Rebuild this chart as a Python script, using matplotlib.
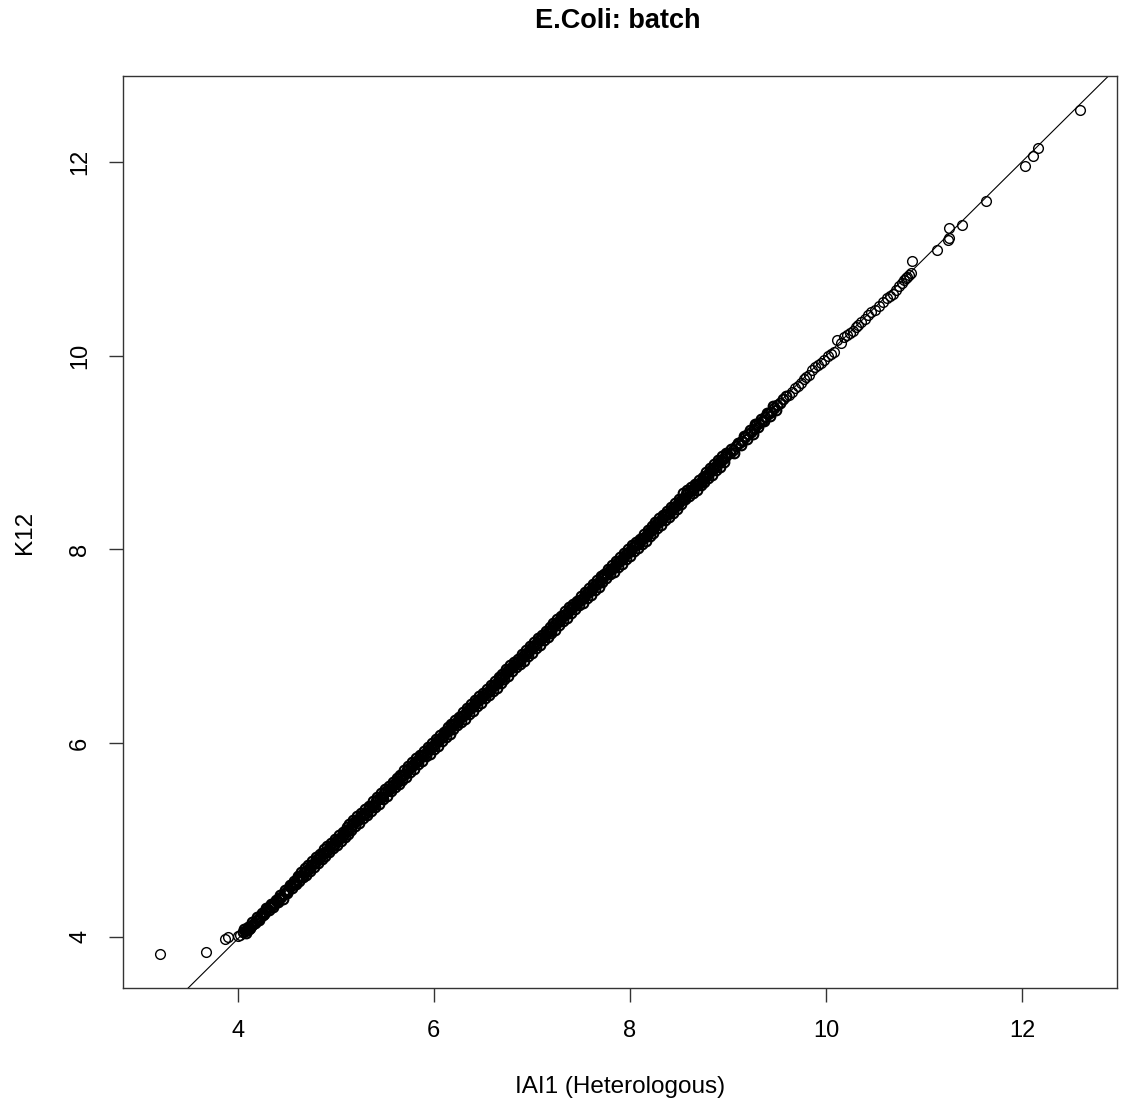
import matplotlib
matplotlib.use("Agg")
import matplotlib.pyplot as plt
import numpy as np

plt.rcParams['font.family'] = ['Liberation Sans', 'DejaVu Sans']

# ---- data: QQ quantiles (x = IAI1 (Heterologous), y = K12) ----
tail_low_x = [3.206, 3.681, 3.871, 3.901, 4.003, 4.02]
tail_low_y = [3.817, 3.845, 3.976, 3.997, 4.003, 4.02]

seg_a_x = [4.05, 4.07, 4.09, 4.12, 4.14, 4.16, 4.19, 4.21, 4.23, 4.26, 4.28, 4.30,
           4.33, 4.35, 4.37, 4.40, 4.42, 4.44, 4.47, 4.49, 4.51, 4.54, 4.56, 4.58]
seg_a_y = [4.05, 4.06, 4.07, 4.08, 4.11, 4.13, 4.16, 4.18, 4.20, 4.22, 4.25, 4.28,
           4.31, 4.33, 4.34, 4.37, 4.40, 4.41, 4.44, 4.46, 4.48, 4.52, 4.54, 4.55]

seg_a2_x = [4.06, 4.08, 4.11, 4.13, 4.15, 4.18, 4.20, 4.22, 4.25, 4.27, 4.29, 4.32,
            4.34, 4.36, 4.39, 4.41, 4.43, 4.46, 4.48, 4.50, 4.53, 4.55, 4.57, 4.59]
seg_a2_y = [4.08, 4.04, 4.10, 4.09, 4.15, 4.14, 4.20, 4.17, 4.24, 4.23, 4.29, 4.27,
            4.34, 4.31, 4.38, 4.36, 4.43, 4.39, 4.48, 4.45, 4.53, 4.50, 4.57, 4.54]

seg_b_x = [
    4.60, 4.62, 4.64, 4.66, 4.68, 4.71, 4.73, 4.75, 4.77, 4.79,
    4.81, 4.83, 4.85, 4.87, 4.90, 4.92, 4.94, 4.96, 4.98, 5.00,
    5.02, 5.04, 5.06, 5.08, 5.10, 5.12, 5.15, 5.17, 5.19, 5.21,
    5.23, 5.25, 5.27, 5.29, 5.31, 5.33, 5.35, 5.37, 5.39, 5.41,
    5.43, 5.45, 5.47, 5.49, 5.51, 5.53, 5.55, 5.57, 5.59, 5.61,
    5.63, 5.65, 5.67, 5.69, 5.71, 5.73, 5.75, 5.77, 5.79, 5.81,
    5.83, 5.85, 5.87, 5.89, 5.91, 5.93, 5.95, 5.97, 5.99, 6.01,
    6.03, 6.05, 6.07, 6.09, 6.11, 6.13, 6.15, 6.17, 6.19, 6.21,
    6.23, 6.25, 6.27, 6.29, 6.31, 6.33, 6.35, 6.37, 6.39, 6.41,
    6.43, 6.45, 6.47, 6.49, 6.51, 6.53, 6.55, 6.57, 6.59, 6.61,
    6.63, 6.65, 6.67, 6.69, 6.71, 6.73, 6.75, 6.77, 6.79, 6.81,
    6.83, 6.85, 6.87, 6.89, 6.91, 6.93, 6.95, 6.97, 6.99, 7.01,
    7.03, 7.05, 7.07, 7.09, 7.11, 7.13, 7.15, 7.17, 7.19, 7.21,
    7.23, 7.25, 7.27, 7.29, 7.31, 7.33, 7.35, 7.37, 7.39, 7.41,
    7.43, 7.45, 7.47, 7.49, 7.51, 7.53, 7.55, 7.57, 7.59, 7.61,
    7.63, 7.65, 7.67, 7.69, 7.71, 7.73, 7.75, 7.77, 7.79, 7.81,
    7.83, 7.85, 7.87, 7.89, 7.91, 7.93, 7.95, 7.97, 7.99, 8.01,
    8.03, 8.05, 8.07, 8.09, 8.11, 8.13, 8.15, 8.17, 8.19, 8.21,
    8.23, 8.25, 8.27, 8.29, 8.31, 8.33, 8.35, 8.37, 8.39, 8.41,
    8.43, 8.45, 8.47, 8.49, 8.51, 8.53, 8.55, 8.57, 8.59, 8.61,
    8.63, 8.65, 8.67, 8.69, 8.71, 8.73, 8.75, 8.77, 8.79, 8.81,
    8.83, 8.85, 8.87, 8.89, 8.91, 8.93, 8.95, 8.97, 8.99]
seg_b_y = [
    4.58, 4.61, 4.62, 4.63, 4.67, 4.69, 4.70, 4.74, 4.75, 4.76,
    4.80, 4.80, 4.83, 4.86, 4.87, 4.89, 4.93, 4.94, 4.95, 4.99,
    5.01, 5.02, 5.03, 5.06, 5.09, 5.10, 5.12, 5.15, 5.18, 5.19,
    5.20, 5.23, 5.26, 5.27, 5.28, 5.31, 5.34, 5.35, 5.36, 5.40,
    5.42, 5.43, 5.44, 5.48, 5.50, 5.51, 5.52, 5.56, 5.58, 5.59,
    5.61, 5.64, 5.66, 5.67, 5.68, 5.72, 5.74, 5.75, 5.77, 5.80,
    5.81, 5.83, 5.86, 5.88, 5.89, 5.91, 5.94, 5.96, 5.97, 5.99,
    6.02, 6.04, 6.05, 6.07, 6.10, 6.12, 6.13, 6.15, 6.18, 6.20,
    6.21, 6.23, 6.26, 6.28, 6.29, 6.31, 6.34, 6.36, 6.37, 6.39,
    6.42, 6.44, 6.45, 6.47, 6.50, 6.52, 6.53, 6.55, 6.58, 6.60,
    6.61, 6.63, 6.66, 6.68, 6.69, 6.71, 6.74, 6.76, 6.77, 6.79,
    6.82, 6.84, 6.85, 6.87, 6.90, 6.92, 6.93, 6.95, 6.98, 7.00,
    7.01, 7.03, 7.06, 7.08, 7.09, 7.11, 7.14, 7.16, 7.17, 7.19,
    7.22, 7.24, 7.25, 7.27, 7.30, 7.32, 7.33, 7.35, 7.38, 7.40,
    7.41, 7.43, 7.46, 7.48, 7.49, 7.51, 7.54, 7.56, 7.57, 7.59,
    7.62, 7.64, 7.65, 7.67, 7.70, 7.72, 7.73, 7.75, 7.78, 7.80,
    7.81, 7.83, 7.86, 7.88, 7.89, 7.91, 7.94, 7.96, 7.97, 7.99,
    8.02, 8.04, 8.05, 8.07, 8.10, 8.12, 8.13, 8.15, 8.18, 8.20,
    8.21, 8.23, 8.26, 8.28, 8.29, 8.31, 8.34, 8.36, 8.37, 8.39,
    8.42, 8.44, 8.45, 8.47, 8.50, 8.52, 8.53, 8.57, 8.59, 8.60,
    8.61, 8.63, 8.66, 8.68, 8.69, 8.71, 8.74, 8.76, 8.77, 8.79,
    8.82, 8.84, 8.85, 8.87, 8.90, 8.92, 8.93, 8.95, 8.98]

seg_b2_x = [
    4.61, 4.63, 4.65, 4.67, 4.69, 4.70, 4.72, 4.74, 4.76, 4.78,
    4.80, 4.82, 4.84, 4.86, 4.88, 4.89, 4.91, 4.93, 4.95, 4.97,
    4.99, 5.01, 5.03, 5.05, 5.07, 5.09, 5.11, 5.13, 5.14, 5.16,
    5.18, 5.20, 5.22, 5.24, 5.26, 5.28, 5.30, 5.32, 5.34, 5.36,
    5.38, 5.40, 5.42, 5.44, 5.46, 5.48, 5.50, 5.52, 5.54, 5.56,
    5.58, 5.60, 5.62, 5.64, 5.66, 5.68, 5.70, 5.72, 5.74, 5.76,
    5.78, 5.80, 5.82, 5.84, 5.86, 5.88, 5.90, 5.92, 5.94, 5.96,
    5.98, 6.00, 6.02, 6.04, 6.06, 6.08, 6.10, 6.12, 6.14, 6.16,
    6.18, 6.20, 6.22, 6.24, 6.26, 6.28, 6.30, 6.32, 6.34, 6.36,
    6.38, 6.40, 6.42, 6.44, 6.46, 6.48, 6.50, 6.52, 6.54, 6.56,
    6.58, 6.60, 6.62, 6.64, 6.66, 6.68, 6.70, 6.72, 6.74, 6.76,
    6.78, 6.80, 6.82, 6.84, 6.86, 6.88, 6.90, 6.92, 6.94, 6.96,
    6.98, 7.00, 7.02, 7.04, 7.06, 7.08, 7.10, 7.12, 7.14, 7.16,
    7.18, 7.20, 7.22, 7.24, 7.26, 7.28, 7.30, 7.32, 7.34, 7.36,
    7.38, 7.40, 7.42, 7.44, 7.46, 7.48, 7.50, 7.52, 7.54, 7.56,
    7.58, 7.60, 7.62, 7.64, 7.66, 7.68, 7.70, 7.72, 7.74, 7.76,
    7.78, 7.80, 7.82, 7.84, 7.86, 7.88, 7.90, 7.92, 7.94, 7.96,
    7.98, 8.00, 8.02, 8.04, 8.06, 8.08, 8.10, 8.12, 8.14, 8.16,
    8.18, 8.20, 8.22, 8.24, 8.26, 8.28, 8.30, 8.32, 8.34, 8.36,
    8.38, 8.40, 8.42, 8.44, 8.46, 8.48, 8.50, 8.52, 8.54, 8.56,
    8.58, 8.60, 8.62, 8.64, 8.66, 8.68, 8.70, 8.72, 8.74, 8.76,
    8.78, 8.80, 8.82, 8.84, 8.86, 8.88, 8.90, 8.92, 8.94, 8.96, 8.98]
seg_b2_y = [
    4.63, 4.57, 4.67, 4.61, 4.71, 4.64, 4.74, 4.68, 4.78, 4.72,
    4.82, 4.76, 4.85, 4.80, 4.90, 4.83, 4.93, 4.87, 4.97, 4.91,
    5.01, 4.95, 5.05, 4.99, 5.08, 5.03, 5.13, 5.06, 5.16, 5.10,
    5.20, 5.14, 5.24, 5.17, 5.28, 5.22, 5.32, 5.26, 5.35, 5.30,
    5.40, 5.34, 5.44, 5.37, 5.48, 5.42, 5.52, 5.45, 5.56, 5.50,
    5.60, 5.54, 5.64, 5.58, 5.67, 5.62, 5.72, 5.65, 5.76, 5.70,
    5.80, 5.73, 5.84, 5.78, 5.88, 5.81, 5.92, 5.86, 5.96, 5.89,
    6.00, 5.94, 6.04, 5.97, 6.08, 6.02, 6.11, 6.06, 6.16, 6.09,
    6.20, 6.14, 6.24, 6.18, 6.27, 6.22, 6.32, 6.25, 6.36, 6.30,
    6.40, 6.33, 6.44, 6.38, 6.48, 6.41, 6.52, 6.46, 6.56, 6.49,
    6.60, 6.54, 6.64, 6.57, 6.68, 6.62, 6.71, 6.66, 6.76, 6.69,
    6.80, 6.74, 6.84, 6.78, 6.87, 6.82, 6.92, 6.85, 6.96, 6.90,
    7.00, 6.93, 7.04, 6.98, 7.08, 7.01, 7.12, 7.06, 7.16, 7.09,
    7.20, 7.14, 7.24, 7.17, 7.28, 7.22, 7.31, 7.26, 7.36, 7.29,
    7.40, 7.34, 7.44, 7.38, 7.47, 7.42, 7.52, 7.45, 7.56, 7.50,
    7.60, 7.53, 7.64, 7.58, 7.68, 7.61, 7.72, 7.66, 7.75, 7.70,
    7.80, 7.74, 7.84, 7.77, 7.88, 7.82, 7.92, 7.85, 7.96, 7.90,
    8.00, 7.93, 8.04, 7.98, 8.08, 8.01, 8.11, 8.06, 8.16, 8.09,
    8.20, 8.14, 8.24, 8.17, 8.28, 8.22, 8.32, 8.25, 8.35, 8.30,
    8.40, 8.33, 8.44, 8.38, 8.48, 8.42, 8.52, 8.47, 8.58, 8.52,
    8.61, 8.55, 8.64, 8.58, 8.68, 8.61, 8.72, 8.66, 8.75, 8.70,
    8.80, 8.74, 8.84, 8.77, 8.88, 8.82, 8.92, 8.85, 8.96, 8.90, 9.00]

seg_c_x = [9.02, 9.05, 9.08, 9.11, 9.14, 9.17, 9.20, 9.23, 9.26, 9.29,
           9.32, 9.35, 9.38, 9.41, 9.44, 9.47, 9.50, 9.53, 9.56, 9.59]
seg_c_y = [9.00, 9.03, 9.07, 9.10, 9.12, 9.16, 9.19, 9.21, 9.24, 9.28,
           9.30, 9.33, 9.37, 9.40, 9.42, 9.46, 9.49, 9.51, 9.55, 9.58]

seg_c2_x = [9.03, 9.06, 9.10, 9.13, 9.16, 9.19, 9.22, 9.25, 9.28, 9.31,
            9.34, 9.37, 9.40, 9.43, 9.46, 9.49]
seg_c2_y = [9.04, 8.99, 9.10, 9.08, 9.17, 9.14, 9.23, 9.19, 9.29, 9.26,
            9.35, 9.33, 9.41, 9.38, 9.48, 9.44]

seg_d_x = [9.62, 9.65, 9.68, 9.71, 9.74, 9.77, 9.80, 9.83, 9.86, 9.89,
           9.92, 9.95, 9.98, 10.02, 10.05, 10.08, 10.11, 10.15, 10.18, 10.21,
           10.24, 10.27, 10.30, 10.33, 10.36, 10.40, 10.43, 10.46, 10.50, 10.54,
           10.58, 10.62, 10.65, 10.68, 10.71, 10.74, 10.77, 10.79, 10.81, 10.83,
           10.85, 10.87]
seg_d_y = [9.59, 9.63, 9.67, 9.69, 9.72, 9.76, 9.78, 9.80, 9.85, 9.88,
           9.90, 9.92, 9.96, 10.00, 10.02, 10.04, 10.16, 10.13, 10.19, 10.21,
           10.24, 10.26, 10.30, 10.32, 10.35, 10.38, 10.42, 10.45, 10.47, 10.51,
           10.56, 10.60, 10.62, 10.64, 10.68, 10.72, 10.75, 10.78, 10.80, 10.81,
           10.83, 10.85]

tail_high_x = [10.877, 11.127, 11.246, 11.25, 11.257, 11.386, 11.63, 12.031, 12.105, 12.156, 12.591]
tail_high_y = [10.977, 11.09, 11.194, 11.22, 11.315, 11.349, 11.60, 11.962, 12.059, 12.142, 12.541]

line_intercept = -0.041
line_slope = 1.004

x_ticks = [4, 6, 8, 10, 12]
y_ticks = [4, 6, 8, 10, 12]

title = "E.Coli: batch"
x_label = "IAI1 (Heterologous)"
y_label = "K12"

# ---- assemble ----
dense_x = np.array(seg_a_x + seg_a2_x + seg_b_x + seg_b2_x + seg_c_x + seg_c2_x)
dense_y = np.array(seg_a_y + seg_a2_y + seg_b_y + seg_b2_y + seg_c_y + seg_c2_y)
sparse_x = np.array(tail_low_x + seg_d_x + tail_high_x)
sparse_y = np.array(tail_low_y + seg_d_y + tail_high_y)
qx = np.concatenate([dense_x, sparse_x])
qy = np.concatenate([dense_y, sparse_y])

W, H = 1123, 1101
fig = plt.figure(figsize=(W / 100, H / 100), dpi=100)
left, right, top, bottom = 123, 1117, 76, 988
ax = fig.add_axes([left / W, 1 - bottom / H, (right - left) / W, (bottom - top) / H])

ax.plot(dense_x, dense_y, linestyle='none', marker='o', markersize=7.0,
        markerfacecolor='none', markeredgecolor='black', markeredgewidth=1.5)
ax.plot(sparse_x, sparse_y, linestyle='none', marker='o', markersize=7.0,
        markerfacecolor='none', markeredgecolor='black', markeredgewidth=1.0)

# R-style 4% range extension
xr = qx.max() - qx.min()
yr = qy.max() - qy.min()
ax.set_xlim(qx.min() - 0.04 * xr, qx.max() + 0.04 * xr)
ax.set_ylim(qy.min() - 0.04 * yr, qy.max() + 0.04 * yr)

ax.axline((0, line_intercept), slope=line_slope, color='black', linewidth=0.8)

ax.set_xticks(x_ticks)
ax.set_yticks(y_ticks)
ax.set_xticklabels([str(t) for t in x_ticks])
ax.set_yticklabels([str(t) for t in y_ticks], rotation=90, va='center')
ax.tick_params(axis='both', direction='out', length=10, width=1.0,
               labelsize=17, pad=13, color='#333333')
for s in ax.spines.values():
    s.set_linewidth(1.0)
    s.set_color('#333333')

fig.text(618 / W, 1 - 21 / H, title, ha='center', va='center',
         fontsize=19.5, fontweight='bold')
fig.text(620 / W, 1 - 1087 / H, x_label, ha='center', va='center', fontsize=17.5)
fig.text(25 / W, 1 - 532 / H, y_label, ha='center', va='center',
         rotation=90, fontsize=17.5)

fig.savefig("out.png", dpi=100, facecolor='white')
